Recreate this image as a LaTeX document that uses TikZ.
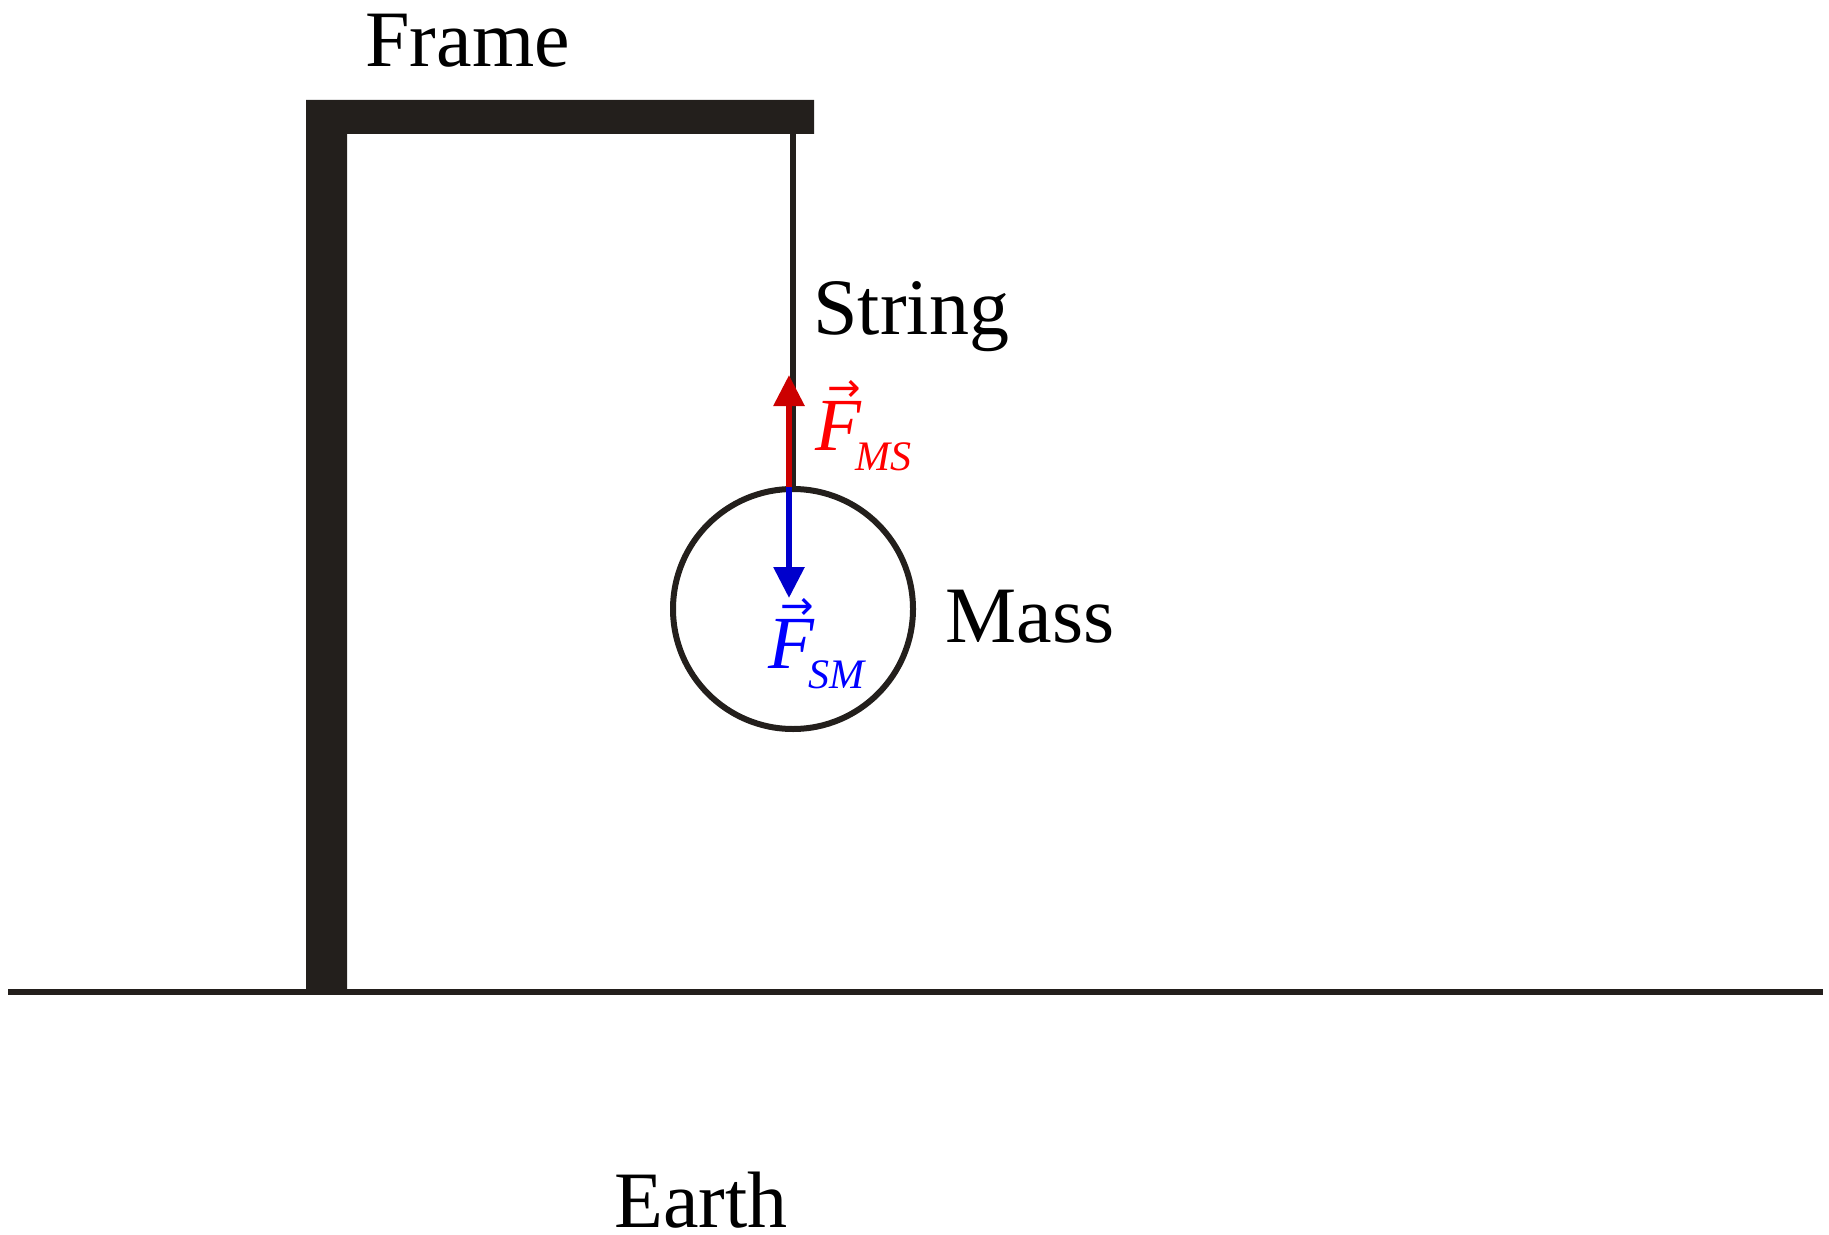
\documentclass[tikz,border=0pt]{standalone}
\usepackage{fontspec}
\setmainfont{Liberation Serif}
\newfontfamily\arrowfont{DejaVu Sans}
\usetikzlibrary{arrows.meta}
\definecolor{frameblk}{RGB}{35,31,28}
\definecolor{arrred}{RGB}{204,0,0}
\definecolor{arrblue}{RGB}{0,0,204}
\newcommand\bigtxt{\fontsize{40}{48}\selectfont}
\newcommand\forcelbl[1]{\fontsize{37.5}{40}\selectfont\makebox[0pt][l]{\hspace{6pt}\raisebox{24.5pt}{\arrowfont\fontsize{20}{20}\selectfont →}}\makebox[20pt][l]{\itshape F}\raisebox{-10pt}{\fontsize{21}{21}\selectfont\itshape #1}}
\begin{document}
\begin{tikzpicture}[x=0.5pt,y=-0.5pt,
  lbl/.style={anchor=base west,inner sep=0pt,font=\bigtxt},
  force/.style={line width=3pt,-{Triangle[width=15pt,length=15.5pt]}}]
\useasboundingbox (0,0) rectangle (1829,1235);
% ground
\coordinate (gl) at (8,992);
\coordinate (gr) at (1823,992);
\draw[frameblk,line width=3pt] (gl) -- (gr);
% frame
\fill[frameblk] (306,100) -- (814,100) -- (814,134) -- (347,134) -- (347,992) -- (306,992) -- cycle;
% string and mass
\coordinate (hook) at (793,134);
\coordinate (mtop) at (793,489);
\coordinate (mc) at (793,609);
\draw[frameblk,line width=3pt] (hook) -- (mtop);
\draw[frameblk,line width=3pt] (mc) circle[radius=120];
% forces
\coordinate (fo) at (789,487);
\coordinate (fup) at (789,375);
\coordinate (fdn) at (789,598);
\draw[force,arrred] (fo) -- (fup);
\draw[force,arrblue] (fo) -- (fdn);
% labels
\node[lbl] (frame) at (365,67) {Frame};
\node[lbl] (string) at (813,335) {String};
\node[lbl] (mass) at (945,642) {Mass};
\node[lbl] (earth) at (614,1227) {Earth};
\node[anchor=base west,inner sep=0pt,text=red] (fms) at (815,450) {\forcelbl{MS}};
\node[anchor=base west,inner sep=0pt,text=blue] (fsm) at (768,668) {\forcelbl{SM}};
\end{tikzpicture}
\end{document}
